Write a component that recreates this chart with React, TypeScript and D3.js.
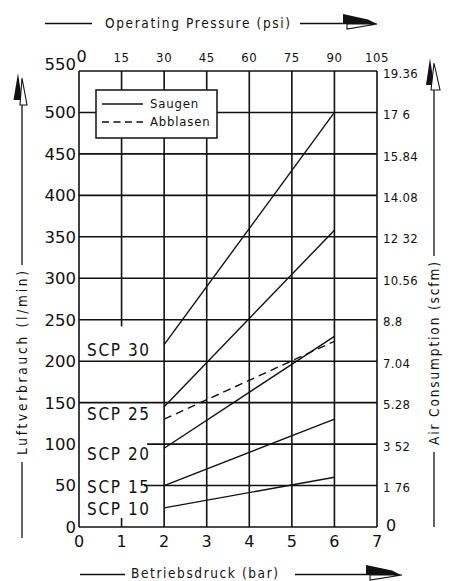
import React from 'react';
import * as d3 from 'd3';

// bar ticks on the bottom, psi ticks on the top
const barTicks = [0, 1, 2, 3, 4, 5, 6, 7];
const psiTicks = [0, 15, 30, 45, 60, 75, 90, 105];
const lpmTicks = [0, 50, 100, 150, 200, 250, 300, 350, 400, 450, 500, 550];
const scfmLabels = ['0', '1 76', '3 52', '5.28', '7.04', '8.8', '10.56', '12 32', '14.08', '15.84', '17 6', '19.36'];

// Saugen (suction) series, l/min at 2 and 6 bar
const pressures = [2, 6];
const scp30 = [220, 500];
const scp25 = [145, 358];
const scp20 = [95, 230];
const scp15 = [50, 130];
const scp10 = [23, 60];
// Abblasen (blow-off)
const abblasen = [130, 224];

const seriesNames = ['SCP 30', 'SCP 25', 'SCP 20', 'SCP 15', 'SCP 10'];
const labelValues = [206, 129, 81, 41, 14];

const W = 454;
const H = 581;

const font = "'DejaVu Sans Condensed', 'DejaVu Sans', sans-serif";
const ink = '#111';

export default function App() {
  const x = d3.scaleLinear().domain([0, 7]).range([79, 377]);
  const y = d3.scaleLinear().domain([0, 550]).range([527, 71]);
  const xPsi = d3.scaleLinear().domain([0, 105]).range([79, 377]);

  const line = d3.line<[number, number]>()
    .x(d => x(d[0]))
    .y(d => y(d[1]));

  const solid = [scp30, scp25, scp20, scp15, scp10];
  const pts = (vals: number[]) => pressures.map((p, i) => [p, vals[i]] as [number, number]);

  // grid: some lines are interrupted by the SCP labels
  const hStart = (v: number) => (v === 100 ? 1.6 : v === 50 ? 1.53 : 0);

  return (
    <svg width={W} height={H} style={{ position: 'absolute', left: 0, top: 0, background: '#fff' }}>
      <rect width={W} height={H} fill="#fff" />

      {/* horizontal grid */}
      {lpmTicks.map(v => (
        <line key={'h' + v} x1={x(hStart(v))} x2={x(7)} y1={y(v)} y2={y(v)} stroke={ink} strokeWidth={1.6} />
      ))}
      {/* vertical grid */}
      {barTicks.map(b => {
        if (b === 1) {
          return (
            <g key={'v' + b}>
              <line x1={x(1)} x2={x(1)} y1={y(550)} y2={y(242)} stroke={ink} strokeWidth={1.6} />
              <line x1={x(1)} x2={x(1)} y1={y(0)} y2={y(11)} stroke={ink} strokeWidth={1.6} />
            </g>
          );
        }
        return <line key={'v' + b} x1={x(b)} x2={x(b)} y1={y(0)} y2={y(550)} stroke={ink} strokeWidth={1.6} />;
      })}

      {/* data lines */}
      {solid.map((s, i) => (
        <path key={'s' + i} d={line(pts(s)) || ''} fill="none" stroke={ink} strokeWidth={1.4} />
      ))}
      <path d={line(pts(abblasen)) || ''} fill="none" stroke={ink} strokeWidth={1.4} strokeDasharray="8,5" />

      {/* SCP labels */}
      {seriesNames.map((n, i) => (
        <text key={n} x={x(0.19)} y={y(labelValues[i])} fontFamily={font} fontSize={17} letterSpacing={1.6} fill={ink}>
          {n}
        </text>
      ))}

      {/* legend */}
      <rect x={96} y={90} width={121} height={48} fill="#fff" stroke={ink} strokeWidth={1.5} />
      <line x1={102} x2={143} y1={104} y2={104} stroke={ink} strokeWidth={1.4} />
      <line x1={102} x2={143} y1={122} y2={122} stroke={ink} strokeWidth={1.4} strokeDasharray="7,4.5" />
      <text x={150} y={108} fontFamily={font} fontSize={13} letterSpacing={0.8} fill={ink}>Saugen</text>
      <text x={150} y={126} fontFamily={font} fontSize={13} letterSpacing={0.8} fill={ink}>Abblasen</text>

      {/* left axis labels */}
      {lpmTicks.map(v => (
        <text key={'l' + v} x={76} y={y(v) + (v === 550 ? -7 : 0)} dy="0.36em" textAnchor="end"
          fontFamily="'DejaVu Sans', sans-serif" fontSize={16.5} fill={ink}>
          {v}
        </text>
      ))}
      {/* right axis labels */}
      {lpmTicks.map((v, i) => (
        <text key={'r' + v} x={i === 0 ? 386 : 383} y={y(v) + (i === 0 ? -2 : 2)} dy="0.36em"
          fontFamily={i === 0 ? "'DejaVu Sans', sans-serif" : font} fontSize={i === 0 ? 16 : 13} letterSpacing={i === 0 ? 0 : 0.3} fill={ink}>
          {scfmLabels[i]}
        </text>
      ))}
      {/* bottom axis labels */}
      {barTicks.map(b => (
        <text key={'b' + b} x={x(b)} y={547} textAnchor="middle" fontFamily="'DejaVu Sans', sans-serif" fontSize={16} fill={ink}>
          {b}
        </text>
      ))}
      {/* top psi labels */}
      {psiTicks.map(p => (
        <text key={'p' + p} x={xPsi(p) + (p === 0 ? 3 : 0)} y={62} textAnchor="middle"
          fontFamily={p === 0 ? "'DejaVu Sans', sans-serif" : font} fontSize={p === 0 ? 16 : 13} letterSpacing={0.6} fill={ink}>
          {p}
        </text>
      ))}

      {/* top title */}
      <line x1={45} x2={92} y1={23.5} y2={23.5} stroke={ink} strokeWidth={1.3} />
      <text x={105} y={28} fontFamily={font} fontSize={13.5} textLength={185} lengthAdjust="spacing" fill={ink}>
        Operating Pressure (psi)
      </text>
      <line x1={300} x2={350} y1={23.5} y2={23.5} stroke={ink} strokeWidth={1.3} />
      <polygon points="343,14 368,19.5 377,24 343,24" fill={ink} />
      <polygon points="347,24 377,24 347,29" fill="#fff" stroke={ink} strokeWidth={1.1} />

      {/* bottom title */}
      <line x1={80} x2={125} y1={574.5} y2={574.5} stroke={ink} strokeWidth={1.3} />
      <text x={131} y={578} fontFamily={font} fontSize={13.5} textLength={147} lengthAdjust="spacing" fill={ink}>
        Betriebsdruck (bar)
      </text>
      <line x1={295} x2={372} y1={574.5} y2={574.5} stroke={ink} strokeWidth={1.3} />
      <polygon points="366,565 392,570.5 401,575 366,575" fill={ink} />
      <polygon points="370,575 402,575 370,580" fill="#fff" stroke={ink} strokeWidth={1.1} />

      {/* left title */}
      <line x1={22} x2={22} y1={100} y2={265} stroke={ink} strokeWidth={1.3} />
      <text transform="translate(27,455) rotate(-90)" fontFamily={font} fontSize={13.5} textLength={184} lengthAdjust="spacing" fill={ink}>
        Luftverbrauch (l/min)
      </text>
      <line x1={22} x2={22} y1={462} y2={538} stroke={ink} strokeWidth={1.3} />
      <polygon points="13.5,100 18,73 22,100" fill={ink} />
      <polygon points="20,105 22,78 27,105" fill="#fff" stroke={ink} strokeWidth={1.1} />

      {/* right title */}
      <line x1={434} x2={434} y1={90} y2={256} stroke={ink} strokeWidth={1.3} />
      <text transform="translate(439,445) rotate(-90)" fontFamily={font} fontSize={13.5} textLength={183} lengthAdjust="spacing" fill={ink}>
        Air Consumption (scfm)
      </text>
      <line x1={434} x2={434} y1={452} y2={527} stroke={ink} strokeWidth={1.3} />
      <polygon points="426,85 430,58 434,85" fill={ink} />
      <polygon points="431,90 434,63 440,90" fill="#fff" stroke={ink} strokeWidth={1.1} />
    </svg>
  );
}
